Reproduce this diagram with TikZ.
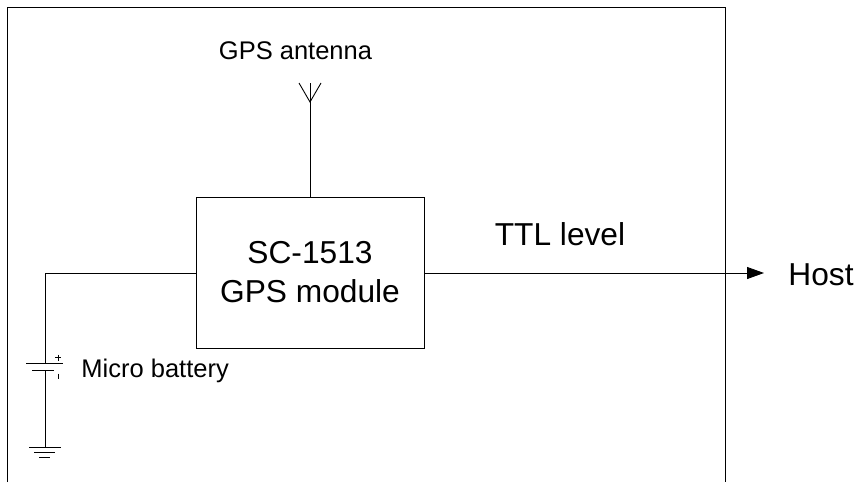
\documentclass[tikz,border=0pt]{standalone}
\usepackage{fontspec}
\setmainfont{Liberation Sans}
\usetikzlibrary{arrows.meta}
\begin{document}
\begin{tikzpicture}[x=1pt,y=-1pt,line width=0.9pt,
  lbl/.style={inner sep=0pt,anchor=base},
  bigtxt/.style={font=\fontsize{31.7}{39}\selectfont},
  smalltxt/.style={font=\fontsize{25.5}{30}\selectfont},
  modbox/.style={draw,minimum width=228pt,minimum height=151pt,inner sep=0pt,align=center,bigtxt}]
\useasboundingbox (0,0) rectangle (858,482);
% outer frame (open at bottom)
\draw (7,482) -- (7,7.5) -- (725.5,7.5) -- (725.5,482);
% module
\node[modbox] (gps) at (310,272.5) {SC-1513\\GPS module};
% antenna
\coordinate (anttop) at (310,83);
\coordinate (antv) at (310,102);
\draw (gps.north) -- (anttop);
\draw (299,83) -- (antv) -- (321,83);
\node[lbl,smalltxt] (antlbl) at (295.5,59) {GPS antenna};
% output
\coordinate (hostpt) at (764,273);
\draw[-{Triangle[length=17pt,width=12pt]}] (gps.east |- hostpt) -- (hostpt);
\node[lbl,bigtxt,anchor=base west] (host) at (788,285) {Host};
\node[lbl,bigtxt] (ttl) at (560,245) {TTL level};
% battery
\coordinate (bcorner) at (45,273);
\coordinate (bplus) at (45,363.5);
\coordinate (bminus) at (45,370.5);
\coordinate (gnd) at (45,447.5);
\draw (gps.west |- bcorner) -- (bcorner) -- (bplus);
\draw (26,363.5) -- (63,363.5);
\draw (32,370.5) -- (54,370.5);
\draw (bminus) -- (gnd);
\draw[line width=0.6pt] (55,357.5) -- (61,357.5) (58,354.5) -- (58,360.5);
\draw[line width=0.6pt] (58,373.5) -- (58,379);
\draw (29,447.5) -- (61,447.5);
\draw (34,452.5) -- (55,452.5);
\draw (39,457.5) -- (50,457.5);
\node[lbl,smalltxt,anchor=base west] (batlbl) at (81,377) {Micro battery};
\end{tikzpicture}
\end{document}
